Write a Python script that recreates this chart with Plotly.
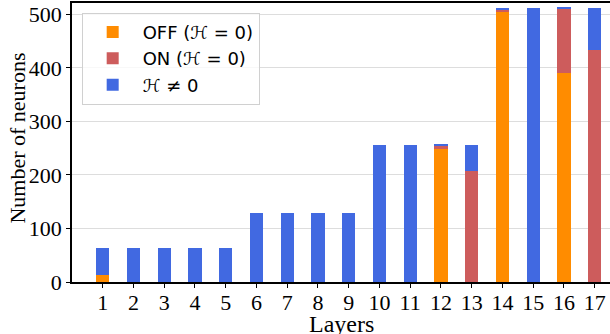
import plotly.graph_objects as go

layers = list(range(1, 18))
off_vals = [13, 0, 0, 0, 0, 0, 0, 0, 0, 0, 0, 249, 0, 505, 0, 390, 0]
on_vals = [0, 0, 0, 0, 0, 0, 0, 0, 0, 0, 0, 5, 208, 4, 0, 120, 433]
h_vals = [51, 64, 64, 64, 64, 128, 128, 128, 128, 256, 256, 2, 48, 3, 512, 2, 79]
y_ticks = [0, 100, 200, 300, 400, 500]

serif = "Liberation Serif"
fig = go.Figure()
fig.add_bar(x=layers, y=off_vals, name="OFF (ℋ = 0)", marker_color="#FF8C00", width=0.43,
            marker_line_width=0, legendgroup="a")
fig.add_bar(x=layers, y=on_vals, name="ON (ℋ = 0)", marker_color="#CD5C5C", width=0.43,
            marker_line_width=0, legendgroup="b")
fig.add_bar(x=layers, y=h_vals, name="ℋ ≠ 0", marker_color="#4169E1", width=0.43,
            marker_line_width=0, legendgroup="c")

fig.update_layout(
    width=610, height=334,
    margin=dict(l=72, r=0, t=3, b=52),
    barmode="stack",
    plot_bgcolor="white", paper_bgcolor="white",
    font=dict(family=serif, size=22, color="black"),
    legend=dict(
        x=0.018, y=0.965, xanchor="left", yanchor="top",
        font=dict(family="DejaVu Sans", size=18, color="black"),
        bgcolor="rgba(255,255,255,0.8)", bordercolor="#d0d0d0", borderwidth=1,
        traceorder="normal", itemwidth=50, tracegroupgap=2,
    ),
    xaxis=dict(
        range=[0, 17.5], tickvals=layers, ticktext=[str(v) for v in layers],
        showline=True, linecolor="black", linewidth=1.5, mirror=True,
        ticks="outside", ticklen=4, tickcolor="black", showgrid=False,
        automargin=False, tickfont=dict(family=serif, size=22),
        ticklabelstandoff=-4,
    ),
    yaxis=dict(
        range=[0, 521], tickvals=y_ticks,
        showline=True, linecolor="black", linewidth=1.5, mirror=True,
        ticks="outside", ticklen=4, tickcolor="black",
        showgrid=True, gridcolor="#dddddd", gridwidth=1,
        automargin=False, tickfont=dict(family=serif, size=22),
    ),
    annotations=[
        dict(text="Layers", xref="paper", yref="paper", x=0.5, y=-0.095,
             xanchor="center", yanchor="top", showarrow=False,
             font=dict(family=serif, size=24)),
        dict(text="Number of neurons", xref="paper", yref="paper", x=-0.103, y=0.516,
             xanchor="center", yanchor="middle", textangle=-90, showarrow=False,
             font=dict(family=serif, size=22)),
    ],
)
fig.write_html("out.html", post_script="document.body.style.margin='0';",
               config={"displayModeBar": False})
